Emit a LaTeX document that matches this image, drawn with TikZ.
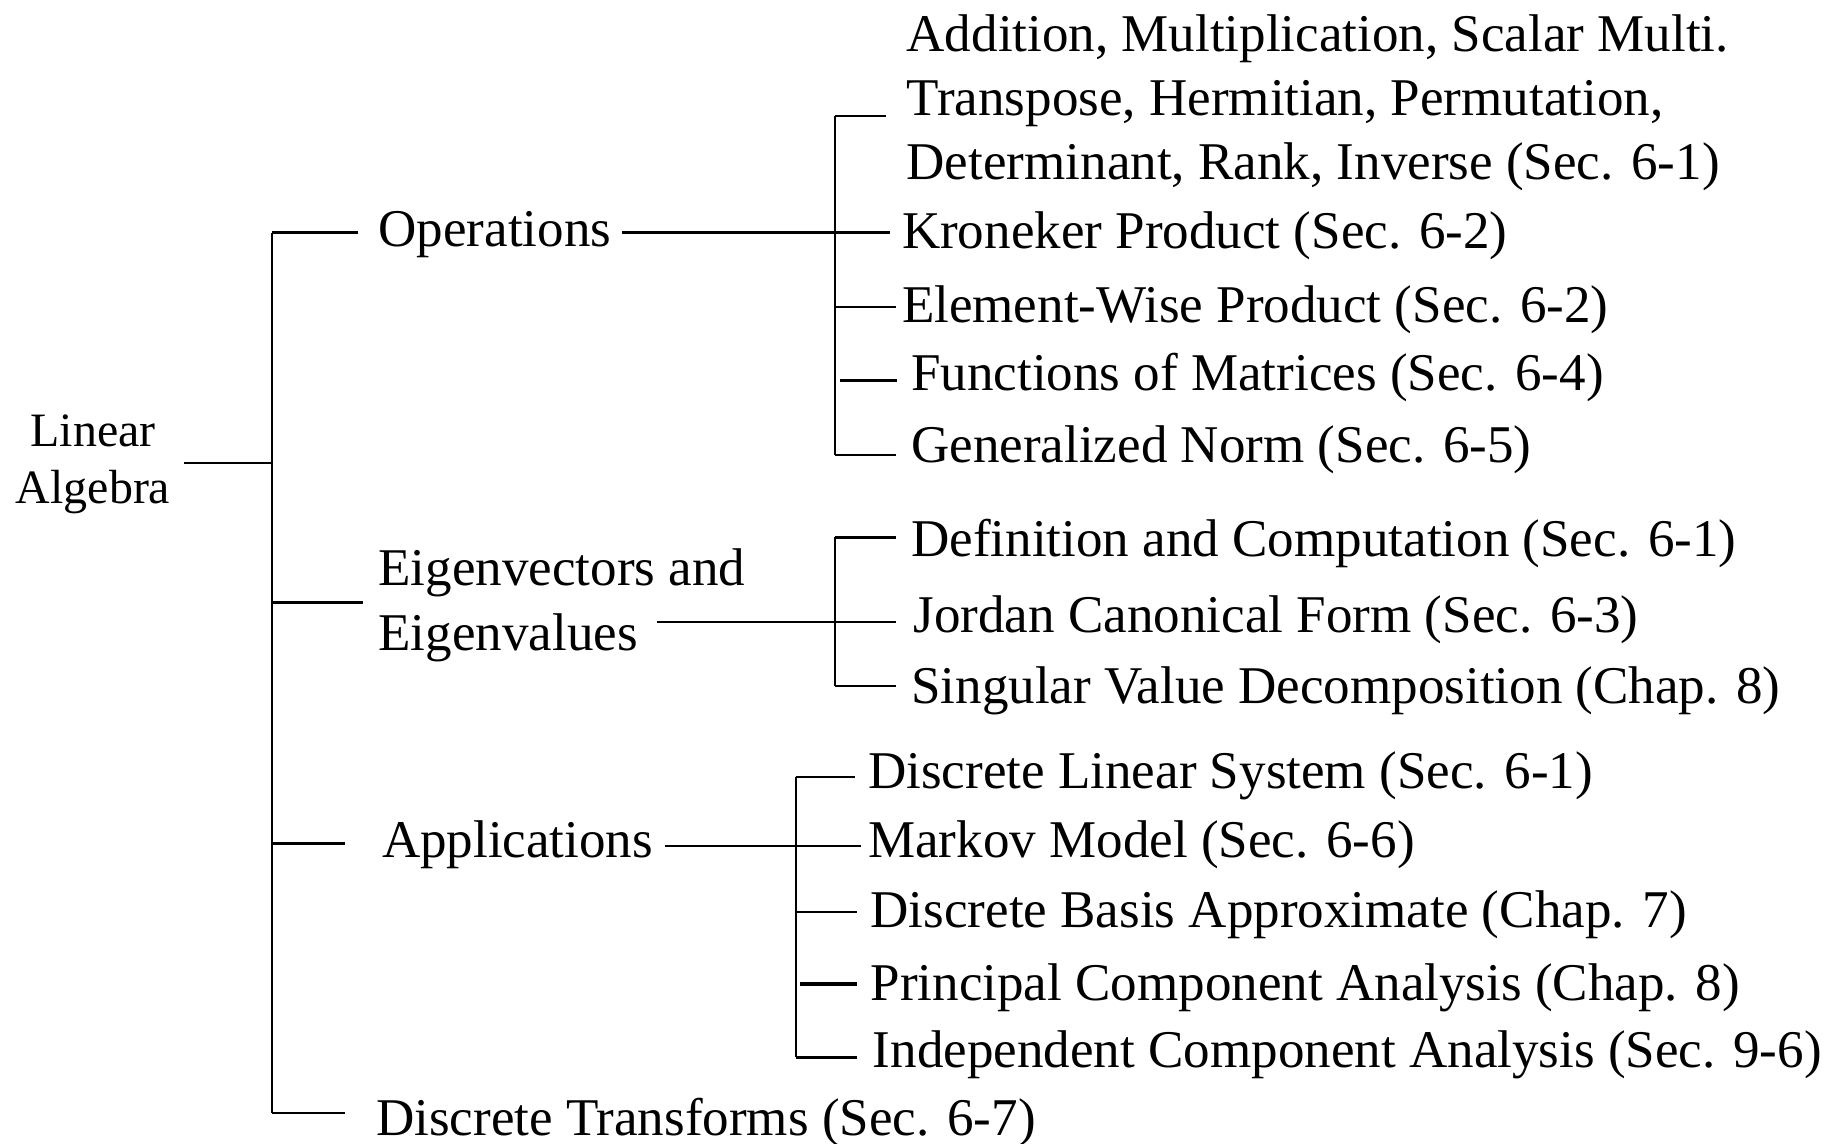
\documentclass[tikz,border=0pt]{standalone}
\usepackage{fontspec}
\setmainfont{Liberation Serif}
\begin{document}
\begin{tikzpicture}[x=0.5pt,y=-0.5pt,
  every node/.style={inner ysep=0pt, font=\fontsize{22.8}{24.5}\selectfont},
  lbl/.style={anchor=base west, inner xsep=#1},
  lbl/.default=6pt,
  ln/.style={line width=1pt},
  thin ln/.style={line width=0.75pt},
  bold ln/.style={line width=1.4pt}]
\useasboundingbox (0,0) rectangle (1568,983);

% root
\node[align=center, anchor=center, inner sep=0pt, font=\fontsize{20.6}{24.5}\selectfont] (root) at (80,399) {Linear\\Algebra};

% level 1
\node[lbl=8.5pt] (ops) at (308,212) {Operations};
\node[lbl=6.5pt, align=left, font=\fontsize{22.8}{28}\selectfont] (eig) at (312,559) {Eigenvectors and\\Eigenvalues};
\node[lbl=15.5pt] (app) at (297,737) {Applications};
\node[lbl=13pt] (dt) at (297,976) {Discrete Transforms (Sec. 6-7)};

% level 2: operations
\node[lbl=8.5pt, align=left, font=\fontsize{22.8}{27.5}\selectfont] (add) at (762,154) {Addition, Multiplication, Scalar Multi.\\Transpose, Hermitian, Permutation,\\Determinant, Rank, Inverse (Sec. 6-1)};
\node[lbl=5pt] (kron) at (765,214) {Kroneker Product (Sec. 6-2)};
\node[lbl=2.5pt] (elem) at (770,277) {Element-Wise Product (Sec. 6-2)};
\node[lbl=6pt] (func) at (771,336) {Functions of Matrices (Sec. 6-4)};
\node[lbl=6.5pt] (norm) at (770,398) {Generalized Norm (Sec. 6-5)};

% level 2: eigen
\node[lbl=6.5pt] (defn) at (770,478) {Definition and Computation (Sec. 6-1)};
\node[lbl=7.5pt] (jord) at (770,544) {Jordan Canonical Form (Sec. 6-3)};
\node[lbl=6.5pt] (svd) at (770,605) {Singular Value Decomposition (Chap. 8)};

% level 2: applications
\node[lbl=5.5pt] (dls) at (735,678) {Discrete Linear System (Sec. 6-1)};
\node[lbl=3pt] (mark) at (740,737) {Markov Model (Sec. 6-6)};
\node[lbl=5.5pt] (dba) at (737,797) {Discrete Basis Approximate (Chap. 7)};
\node[lbl=5.5pt] (pca) at (737,860) {Principal Component Analysis (Chap. 8)};
\node[lbl=6.5pt] (ica) at (737,918) {Independent Component Analysis (Sec. 9-6)};

% junctions
\coordinate (rootout) at (158,398);
\coordinate (ttop) at (234,200);
\coordinate (tbot) at (234,957);
\coordinate (tr) at (234,398);
\coordinate (teig) at (234,518);
\coordinate (tapp) at (234,725);
\coordinate (opsout) at (535,200);
\coordinate (eigout) at (565,535);
\coordinate (appout) at (572,727);
\coordinate (ov1) at (718,100);
\coordinate (ov2) at (718,391);
\coordinate (ev1) at (718,462);
\coordinate (ev2) at (718,590);
\coordinate (av1) at (684,668);
\coordinate (av2) at (684,909);

% trunk
\draw[ln] (rootout) -- (tr);
\draw[ln] (ttop) -- (tbot);
\draw[ln] (ttop) -- (ttop -| ops.west);
\draw[ln] (teig) -- (teig -| eig.west);
\draw[ln] (tapp) -- (tapp -| app.west);
\draw[ln] (tbot) -- (tbot -| dt.west);

% operations
\draw[ln] (opsout) -- (opsout -| kron.west);
\draw[thin ln] (ov1) -- (ov2);
\draw[ln] (ov1) -- (ov1 -| add.west);
\draw[ln] (718,264) -- (718,264 -| elem.west);
\draw[bold ln] (722,327) -- (722,327 -| func.west);
\draw[ln] (ov2) -- (ov2 -| norm.west);

% eigen
\draw[thin ln] (eigout) -- (eigout -| jord.west);
\draw[thin ln] (ev1) -- (ev2);
\draw[ln] (ev1) -- (ev1 -| defn.west);
\draw[ln] (ev2) -- (ev2 -| svd.west);

% applications
\draw[thin ln] (appout) -- (appout -| mark.west);
\draw[thin ln] (av1) -- (av2);
\draw[ln] (av1) -- (av1 -| dls.west);
\draw[ln] (684,784) -- (684,784 -| dba.west);
\draw[bold ln] (688,846) -- (688,846 -| pca.west);
\draw[ln] (av2) -- (av2 -| ica.west);
\end{tikzpicture}
\end{document}
